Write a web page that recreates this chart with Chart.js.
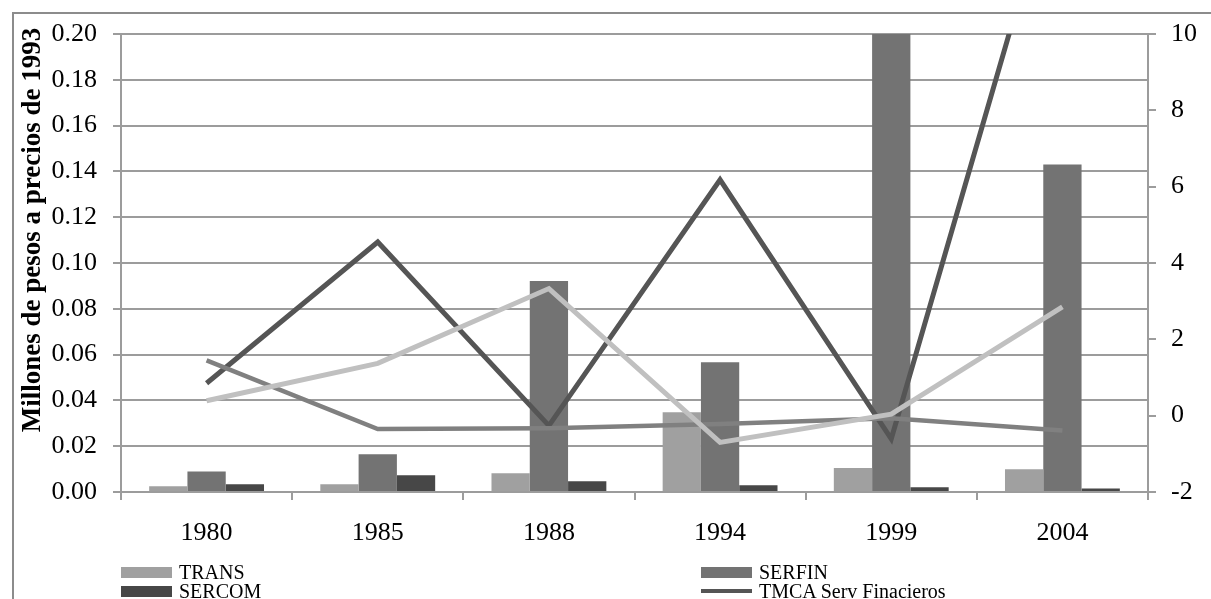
<!DOCTYPE html>
<html><head><meta charset="utf-8">
<script src="https://cdn.jsdelivr.net/npm/chart.js@4/dist/chart.umd.min.js"></script>
<style>
html,body{margin:0;padding:0;background:#fff;overflow:hidden;width:1211px;height:599px;}
#frame{position:absolute;left:12px;top:12px;width:1260px;height:660px;border:2px solid #8c8c8c;box-sizing:border-box;}
#wrap{position:absolute;left:0;top:0;width:1211px;height:599px;}
#legend{position:absolute;left:0;top:0;width:1211px;height:599px;font-family:"Liberation Serif";font-size:20px;color:#000;}
.item{position:absolute;display:flex;align-items:center;white-space:nowrap;height:20px;line-height:20px;}
.sw{display:inline-block;width:51px;height:11px;margin-right:7px;}
.ln{display:inline-block;width:51px;height:4px;margin-right:7px;}
</style></head><body>
<div id="frame"></div>
<div id="wrap"><canvas id="c" width="1211" height="599"></canvas></div>
<div id="legend"></div>
<script>
// ---- data ----
const categories = ['1980', '1985', '1988', '1994', '1999', '2004'];
const trans  = [0.0025, 0.0034, 0.0082, 0.0348, 0.0105, 0.0099];
const serfin = [0.0090, 0.0165, 0.0921, 0.0567, 0.2000, 0.1430];
const sercom = [0.0034, 0.0073, 0.0047, 0.0029, 0.0021, 0.0015];
const tmcaServFin = [0.85, 4.55, -0.26, 6.18, -0.61, 14.8];
const tmcaSerie2  = [1.45, -0.35, -0.33, -0.22, -0.07, -0.39];
const tmcaSerie3  = [0.39, 1.37, 3.33, -0.70, 0.04, 2.85];
const leftAxis  = {min: 0, max: 0.20, step: 0.02};
const rightAxis = {min: -2, max: 10, step: 2};
const yTitle = 'Millones de pesos a precios de 1993';
const legendItems = [
  {label: 'TRANS', color: '#a0a0a0', type: 'box'},
  {label: 'SERFIN', color: '#737373', type: 'box'},
  {label: 'SERCOM', color: '#474747', type: 'box'},
  {label: 'TMCA Serv Finacieros', color: '#555555', type: 'line'}
];

const FONT = '"Liberation Serif", "Times New Roman", serif';
const GRID = '#9c9c9c';

const yTitlePlugin = {
  id: 'yTitle',
  afterDraw(chart) {
    const ctx = chart.ctx;
    ctx.save();
    ctx.translate(33, 230);
    ctx.rotate(-Math.PI / 2);
    ctx.font = 'bold 27px ' + FONT;
    ctx.fillStyle = '#000';
    ctx.textAlign = 'center';
    ctx.textBaseline = 'middle';
    ctx.fillText(yTitle, 0, 0);
    ctx.restore();
  }
};

new Chart(document.getElementById('c'), {
  type: 'bar',
  data: {
    labels: categories,
    datasets: [
      {type: 'line', label: 'TMCA Serv Finacieros', data: tmcaServFin, yAxisID: 'y2', borderColor: '#555555', borderWidth: 5, pointRadius: 0, tension: 0, order: 3},
      {type: 'line', label: 'TMCA 2', data: tmcaSerie2, yAxisID: 'y2', borderColor: '#808080', borderWidth: 4.5, pointRadius: 0, tension: 0, order: 2},
      {type: 'line', label: 'TMCA 3', data: tmcaSerie3, yAxisID: 'y2', borderColor: '#c0c0c0', borderWidth: 5, pointRadius: 0, tension: 0, order: 1},
      {label: 'TRANS', data: trans, yAxisID: 'y', backgroundColor: '#a0a0a0', order: 10, categoryPercentage: 0.671, barPercentage: 1.0},
      {label: 'SERFIN', data: serfin, yAxisID: 'y', backgroundColor: '#737373', order: 10, categoryPercentage: 0.671, barPercentage: 1.0},
      {label: 'SERCOM', data: sercom, yAxisID: 'y', backgroundColor: '#474747', order: 10, categoryPercentage: 0.671, barPercentage: 1.0}
    ]
  },
  options: {
    responsive: false,
    animation: false,
    layout: {padding: {top: 34, left: 0, right: 0, bottom: 0}},
    plugins: {legend: {display: false}, tooltip: {enabled: false}},
    scales: {
      x: {
        type: 'category',
        offset: true,
        grid: {offset: true, drawOnChartArea: false, drawTicks: true, tickLength: 8, color: GRID, lineWidth: 2},
        border: {display: true, color: GRID, width: 2},
        ticks: {font: {family: FONT, size: 26}, color: '#000', padding: 18, maxRotation: 0},
        afterFit(s) { s.height = 107; }
      },
      y: {
        position: 'left',
        min: leftAxis.min, max: leftAxis.max,
        grid: {color: GRID, lineWidth: 2, tickLength: 8},
        border: {display: true, color: GRID, width: 2},
        ticks: {stepSize: leftAxis.step, font: {family: FONT, size: 26}, color: '#000', padding: 16,
          callback: v => Number(v).toFixed(2)},
        afterFit(s) { s.width = 121; }
      },
      y2: {
        position: 'right',
        min: rightAxis.min, max: rightAxis.max,
        grid: {drawOnChartArea: false, color: GRID, lineWidth: 2, tickLength: 8},
        border: {display: true, color: GRID, width: 2},
        ticks: {stepSize: rightAxis.step, font: {family: FONT, size: 26}, color: '#000', padding: 15},
        afterFit(s) { s.width = 63; }
      }
    }
  },
  plugins: [yTitlePlugin]
});

// HTML legend (2 columns)
const leg = document.getElementById('legend');
const pos = [[121, 562], [701, 562], [121, 581], [701, 581]];
legendItems.forEach((it, i) => {
  const d = document.createElement('div');
  d.className = 'item';
  d.style.left = pos[i][0] + 'px';
  d.style.top = pos[i][1] + 'px';
  const s = document.createElement('span');
  s.className = it.type === 'box' ? 'sw' : 'ln';
  s.style.background = it.color;
  d.appendChild(s);
  const t = document.createElement('span');
  t.textContent = it.label;
  d.appendChild(t);
  leg.appendChild(d);
});
</script>
</body></html>
